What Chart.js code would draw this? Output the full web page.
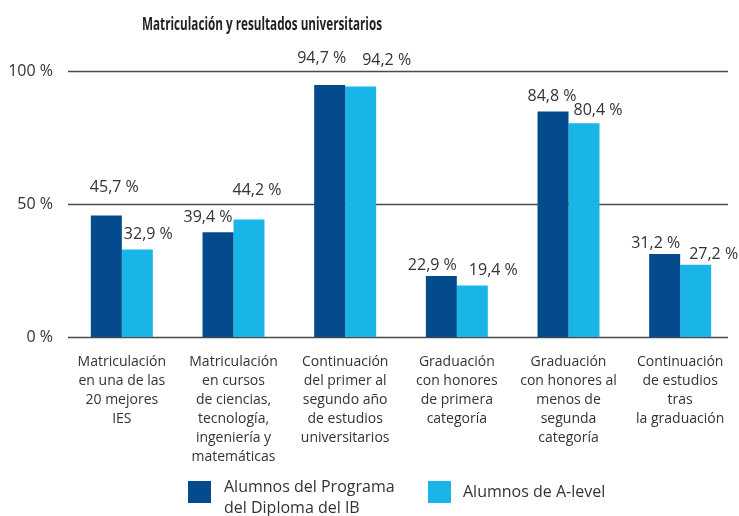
<!DOCTYPE html>
<html lang="es">
<head>
<meta charset="utf-8">
<title>Matriculación y resultados universitarios</title>
<script src="https://cdn.jsdelivr.net/npm/chart.js@4.4.1/dist/chart.umd.min.js"></script>
<style>
  html, body { margin: 0; padding: 0; background: #fff; }
  #wrap { width: 739px; height: 516px; }
</style>
</head>
<body>
<div id="wrap"><canvas id="chart" width="739" height="516"></canvas></div>
<script>
// data
const categories = [
  ['Matriculación', 'en una de las', '20 mejores', 'IES'],
  ['Matriculación', 'en cursos', 'de ciencias,', 'tecnología,', 'ingeniería y', 'matemáticas'],
  ['Continuación', 'del primer al', 'segundo año', 'de estudios', 'universitarios'],
  ['Graduación', 'con honores', 'de primera', 'categoría'],
  ['Graduación', 'con honores al', 'menos de', 'segunda', 'categoría'],
  ['Continuación', 'de estudios', 'tras', 'la graduación']
];
const seriesNames = [['Alumnos del Programa', 'del Diploma del IB'], ['Alumnos de A-level']];
const ibValues = [45.7, 39.4, 94.7, 22.9, 84.8, 31.2];
const aLevelValues = [32.9, 44.2, 94.2, 19.4, 80.4, 27.2];
const yTicks = [0, 50, 100];

const colors = ['#034b8c', '#19b5e8'];
const textColor = '#333333';
const baseFont = "'Open Sans', 'Noto Sans', sans-serif";

// label nudges (px) relative to bar centre / bar top, as laid out in the original
const labelDx = [[8, -10, -8, -9, -1, -9], [11, 8, 26, 21, 14, 18]];
const labelGap = [[23, 10, 22, 6, 10, 6], [10, 24, 21, 10, 8, 6]];

const fmt = v => v.toFixed(1).replace('.', ',') + ' %';

const extras = {
  id: 'extras',
  beforeDatasetsDraw(chart) {
    const { ctx, chartArea, scales: { y } } = chart;
    ctx.save();
    ctx.strokeStyle = '#4a4a4a';
    ctx.lineWidth = 1.6;
    yTicks.forEach(v => {
      const py = Math.round(y.getPixelForValue(v)) + 0.5;
      ctx.beginPath();
      ctx.moveTo(chartArea.left + 2, py);
      ctx.lineTo(chartArea.right - 8, py);
      ctx.stroke();
    });
    ctx.restore();
  },
  afterDatasetsDraw(chart) {
    const { ctx } = chart;
    ctx.save();
    ctx.fillStyle = textColor;
    ctx.textAlign = 'center';
    ctx.textBaseline = 'alphabetic';
    ctx.font = '16px ' + baseFont;
    chart.data.datasets.forEach((ds, di) => {
      chart.getDatasetMeta(di).data.forEach((bar, i) => {
        ctx.fillText(fmt(ds.data[i]), bar.x + labelDx[di][i], bar.y - labelGap[di][i]);
      });
    });

    // title
    ctx.fillStyle = '#231f20';
    ctx.font = "bold 18px 'Liberation Sans Narrow', 'Arial Narrow', " + baseFont;
    const title = 'Matriculación y resultados universitarios';
    const tw = ctx.measureText(title).width;
    const k = tw > 240 ? 240 / tw : 1;
    ctx.translate(262, 30);
    ctx.scale(k, 1);
    ctx.fillText(title, 0, 0);
    ctx.setTransform(1, 0, 0, 1, 0, 0);

    // legend
    const items = [{ x: 188, tx: 224, lines: [492, 513] }, { x: 428, tx: 463, lines: [497] }];
    ctx.font = '16px ' + baseFont;
    ctx.textAlign = 'left';
    chart.data.datasets.forEach((ds, di) => {
      const it = items[di];
      ctx.fillStyle = ds.backgroundColor;
      ctx.fillRect(it.x, 481, 23, 22);
      ctx.fillStyle = textColor;
      seriesNames[di].forEach((line, li) => ctx.fillText(line, it.tx, it.lines[li]));
    });
    ctx.restore();
  }
};

new Chart(document.getElementById('chart'), {
  type: 'bar',
  data: {
    labels: categories,
    datasets: [
      { label: seriesNames[0].join(' '), data: ibValues, backgroundColor: colors[0] },
      { label: seriesNames[1].join(' '), data: aLevelValues, backgroundColor: colors[1] }
    ]
  },
  options: {
    responsive: false,
    animation: false,
    layout: { padding: { top: 71, right: 3, bottom: 34, left: 0 } },
    datasets: { bar: { barPercentage: 1, categoryPercentage: 0.555 } },
    plugins: { legend: { display: false }, tooltip: { enabled: false } },
    scales: {
      x: {
        grid: { display: false },
        border: { display: false },
        afterFit: s => { s.height = 145; },
        ticks: {
          color: textColor,
          autoSkip: false,
          maxRotation: 0,
          padding: 7,
          font: { family: baseFont, size: 14, lineHeight: 1.36 }
        }
      },
      y: {
        min: 0,
        max: 100,
        grid: { display: false },
        border: { display: false },
        afterFit: s => { s.width = 66; },
        afterBuildTicks: s => { s.ticks = yTicks.map(v => ({ value: v })); },
        ticks: {
          color: textColor,
          padding: 5,
          font: { family: baseFont, size: 16 },
          callback: v => v + ' %'
        }
      }
    }
  },
  plugins: [extras]
});
</script>
</body>
</html>
